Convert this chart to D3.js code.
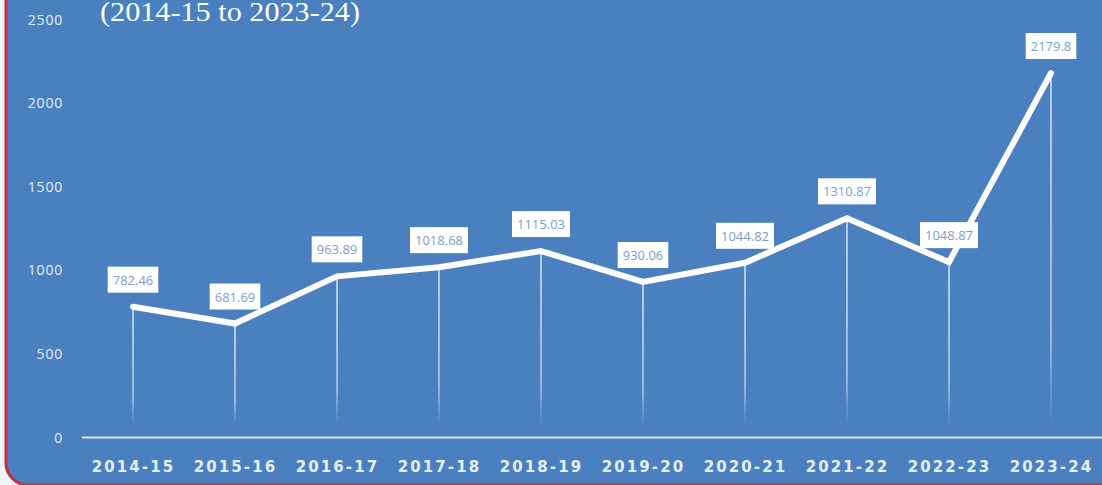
<!DOCTYPE html>
<html>
<head>
<meta charset="utf-8">
<script src="https://cdn.jsdelivr.net/npm/d3@7"></script>
<style>
  html, body { margin: 0; padding: 0; background: #eef5fa; overflow: hidden; }
</style>
</head>
<body>
<div id="chart-container"></div>
<script>
var years = ["2014-15", "2015-16", "2016-17", "2017-18", "2018-19",
             "2019-20", "2020-21", "2021-22", "2022-23", "2023-24"];
var values = [782.46, 681.69, 963.89, 1018.68, 1115.03,
              930.06, 1044.82, 1310.87, 1048.87, 2179.8];
var valueLabels = ["782.46", "681.69", "963.89", "1018.68", "1115.03",
                   "930.06", "1044.82", "1310.87", "1048.87", "2179.8"];
var yTicks = [0, 500, 1000, 1500, 2000, 2500];
var subtitle = "(2014-15 to 2023-24)";

var width = 1102, height = 485;

var svg = d3.select('#chart-container')
            .append('svg')
            .attr('width', width)
            .attr('height', height);

// panel with red left edge and rounded bottom-left corner
svg.append('rect')
   .attr('x', 6).attr('y', -40)
   .attr('width', 1200).attr('height', 525)
   .attr('rx', 22).attr('ry', 22)
   .attr('fill', '#4a80c0')
   .attr('stroke', '#c4313b')
   .attr('stroke-width', 3);

var x = d3.scaleBand().domain(years).range([82, 1102]).padding(0);
var y = d3.scaleLinear().domain([0, 2500]).range([437.5, 19.5]);

var defs = svg.append('defs');
var grad = defs.append('linearGradient')
   .attr('id', 'dropFade').attr('x1', 0).attr('y1', 0).attr('x2', 0).attr('y2', 1);
grad.append('stop').attr('offset', '0%').attr('stop-color', '#fff').attr('stop-opacity', 1);
grad.append('stop').attr('offset', '75%').attr('stop-color', '#fff').attr('stop-opacity', 0.75);
grad.append('stop').attr('offset', '100%').attr('stop-color', '#fff').attr('stop-opacity', 0);

// subtitle (top is cut off in the reference too)
svg.append('text')
   .attr('x', 100).attr('y', 21)
   .attr('font-family', 'Liberation Serif, serif')
   .attr('font-size', 27)
   .attr('textLength', 260)
   .attr('lengthAdjust', 'spacingAndGlyphs')
   .attr('fill', '#ffffff')
   .text(subtitle);

// y tick labels
svg.selectAll('text.ytick')
   .data(yTicks)
   .enter()
   .append('text')
     .attr('class', 'ytick')
     .attr('x', 63)
     .attr('y', function(d) { return y(d) + 5; })
     .attr('text-anchor', 'end')
     .attr('font-family', 'Open Sans, sans-serif')
     .attr('font-size', 14)
     .attr('letter-spacing', 0.8)
     .attr('fill', '#e6eef8')
     .text(function(d) { return d; });

// x axis line
svg.append('line')
   .attr('x1', 82).attr('x2', 1102)
   .attr('y1', y(0)).attr('y2', y(0))
   .attr('stroke', '#dce8f6').attr('stroke-width', 2);

// x labels
svg.selectAll('text.xtick')
   .data(years)
   .enter()
   .append('text')
     .attr('class', 'xtick')
     .attr('x', function(d) { return x(d) + x.bandwidth() / 2 + 0.5; })
     .attr('y', 472)
     .attr('text-anchor', 'middle')
     .attr('font-family', 'DejaVu Sans, sans-serif')
     .attr('font-weight', 'bold')
     .attr('font-size', 15)
     .attr('letter-spacing', 2.1)
     .attr('fill', '#e6eef8')
     .text(function(d) { return d; });

// drop lines
svg.selectAll('rect.drop')
   .data(values)
   .enter()
   .append('rect')
     .attr('class', 'drop')
     .attr('x', function(d, i) { return x(years[i]) + x.bandwidth() / 2 - 0.6; })
     .attr('y', function(d) { return y(d); })
     .attr('width', 1.2)
     .attr('height', function(d) { return y(0) - 12 - y(d); })
     .attr('fill', 'url(#dropFade)');

// main line
var line = d3.line()
   .x(function(d, i) { return x(years[i]) + x.bandwidth() / 2; })
   .y(function(d) { return y(d); });

svg.append('path')
   .datum(values)
   .attr('d', line)
   .attr('fill', 'none')
   .attr('stroke', '#ffffff')
   .attr('stroke-width', 6)
   .attr('stroke-linejoin', 'miter')
   .attr('stroke-linecap', 'round');

// value labels
var lab = svg.selectAll('g.vlabel')
   .data(values)
   .enter()
   .append('g')
     .attr('class', 'vlabel')
     .attr('transform', function(d, i) {
       return 'translate(' + (x(years[i]) + x.bandwidth() / 2) + ',' + (y(d) - 27) + ')';
     });

lab.append('text')
   .attr('text-anchor', 'middle')
   .attr('y', 5)
   .attr('font-family', 'Open Sans, sans-serif')
   .attr('font-size', 13)
   .attr('fill', '#7b9dd0')
   .text(function(d, i) { return valueLabels[i]; });

lab.each(function() {
  var g = d3.select(this);
  var bb = g.select('text').node().getBBox();
  g.insert('rect', 'text')
   .attr('x', -bb.width / 2 - 5)
   .attr('y', -13)
   .attr('width', bb.width + 10)
   .attr('height', 26)
   .attr('fill', '#ffffff');
});
</script>
</body>
</html>
